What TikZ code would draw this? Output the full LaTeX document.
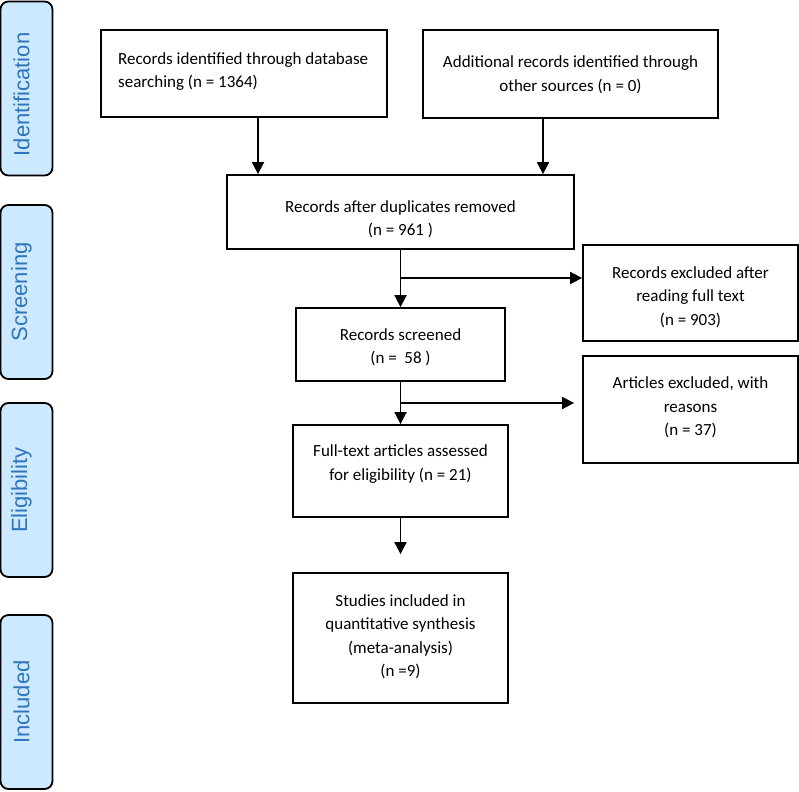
\documentclass[tikz,border=0pt]{standalone}
\usepackage{fontspec}
\setmainfont{Carlito}
\newfontfamily\phasefont{Liberation Sans}
\usepackage{xcolor}
\usetikzlibrary{arrows.meta,calc,positioning,shapes}
\definecolor{phasefill}{RGB}{204,233,255}
\definecolor{phasetext}{RGB}{46,117,190}

\begin{document}
\begin{tikzpicture}[
		x=1pt, y=-1pt,
		box/.style={rectangle, draw, line width=1.8pt},
		boxtext/.style={align=center, inner sep=0pt, font=\fontsize{17}{23.5}\selectfont},
		phase/.style={rectangle, draw, rounded corners=8pt, fill=phasefill, line width=1.8pt, minimum width=52pt, minimum height=174pt},
		phaselabel/.style={rotate=90, text=phasetext, font=\phasefont\fontsize{22}{24}\selectfont},
		arr/.style={draw, line width=1.8pt, -{Triangle[length=12pt,width=12pt]}}
		]
		\useasboundingbox (0,0) rectangle (799,791);
		
		% Les phases
		\node[phase] (P1) at (26.5,88.5) {};
		\node[phaselabel] (L1) at ([xshift=-5pt,yshift=-6pt]P1.center) {Identification};
		\node[phase] (P2) at (26.5,292) {};
		\node[phaselabel] (L2) at ([xshift=-5pt]P2.center) {Screening};
		\node[phase] (P3) at (26.5,490) {};
		\node[phaselabel] (L3) at ([xshift=-5pt]P3.center) {Eligibility};
		\node[phase] (P4) at (26.5,702) {};
		\node[phaselabel] (L4) at ([xshift=-5pt]P4.center) {Included};
		
		% Les boites
		\node[box, minimum width=286pt, minimum height=87pt] (B1) at (244,73.5) {};
		\node[box, minimum width=295pt, minimum height=88pt] (B2) at (570.5,74) {};
		\node[box, minimum width=347pt, minimum height=74pt] (B3) at (400.5,212) {};
		\node[box, minimum width=209pt, minimum height=73pt] (B4) at (400.5,344.5) {};
		\node[box, minimum width=215pt, minimum height=96pt] (B5) at (690.5,293) {};
		\node[box, minimum width=215pt, minimum height=107pt] (B6) at (690.5,409.5) {};
		\node[box, minimum width=215pt, minimum height=92pt] (B7) at (400.5,471) {};
		\node[box, minimum width=215pt, minimum height=130pt] (B8) at (400.5,638) {};
		
		% Les textes
		\node[boxtext, align=left, anchor=west] (T1) at (118,71.5) {Records identified through database\\searching (n = 1364)};
		\node[boxtext] (T2) at (570.5,75) {Additional records identified through\\other sources (n = 0)};
		\node[boxtext] (T3) at (400.5,219.5) {Records after duplicates removed\\(n = 961 )};
		\node[boxtext] (T4) at (400.5,347.5) {Records screened\\(n =\ \ 58 )};
		\node[boxtext] (T5) at (690.5,297) {Records excluded after\\reading full text\\(n = 903)};
		\node[boxtext] (T6) at (690.5,407.5) {Articles excluded, with\\reasons\\(n = 37)};
		\node[boxtext] (T7) at (400.5,464) {Full-text articles assessed\\for eligibility (n = 21)};
		\node[boxtext] (T8) at (400.5,637) {Studies included in\\quantitative synthesis\\(meta-analysis)\\(n =9)};
		
		% Les fleches
		\draw[arr] ([xshift=14pt]B1.south) -- ([xshift=14pt]B1.south |- B3.north);
		\draw[arr] ([xshift=-27.5pt]B2.south) -- ([xshift=-27.5pt]B2.south |- B3.north);
		\draw[arr] (B3) -- (B4);
		\coordinate (K1) at (400.5,278);
		\draw[arr] (K1) -- (K1 -| B5.west);
		\draw[arr] (B4) -- (B7);
		\coordinate (K2) at (400.5,403);
		\draw[arr, shorten >=8pt] (K2) -- (K2 -| B6.west);
		\draw[arr, shorten >=18pt] (B7) -- (B8);
	\end{tikzpicture}
\end{document}
